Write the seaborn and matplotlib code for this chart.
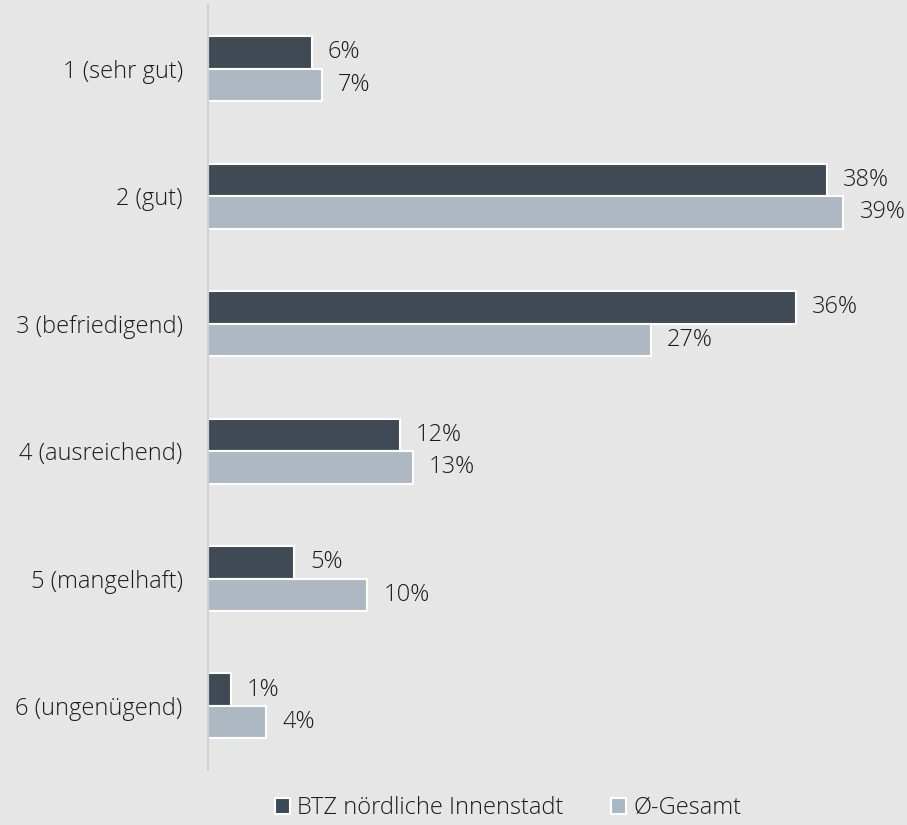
import pandas as pd
import seaborn as sns
import matplotlib.pyplot as plt

# Noten und Anteile (in %)
noten = ['1 (sehr gut)', '2 (gut)', '3 (befriedigend)', '4 (ausreichend)',
         '5 (mangelhaft)', '6 (ungenügend)']
btz = [6.4, 38.0, 36.1, 11.8, 5.3, 1.4]
gesamt = [7.0, 39.0, 27.2, 12.6, 9.8, 3.6]
serien = ['BTZ nördliche Innenstadt', 'Ø-Gesamt']
farben = ['#3b4a58', '#a9b8c5']

df = pd.DataFrame({
    'note': noten * 2,
    'wert': btz + gesamt,
    'serie': [serien[0]] * len(noten) + [serien[1]] * len(noten),
})

sns.set_style('white')
plt.rcParams['font.family'] = ['Open Sans', 'DejaVu Sans']
plt.rcParams['font.weight'] = 'light'
bg = '#e6e6e6'
txt = '#1c1c1c'
fs = 17

fig = plt.figure(figsize=(9.07, 8.25), dpi=100, facecolor=bg)
ax = fig.add_axes([0.229, 0.067, 0.771, 0.927])
ax.set_facecolor(bg)

sns.barplot(data=df, x='wert', y='note', hue='serie', orient='h',
            palette=farben, width=0.51, edgecolor='white', linewidth=1.5,
            ax=ax, legend=False)

for cont in ax.containers:
    ax.bar_label(cont, labels=[f'{round(v)}%' for v in cont.datavalues],
                 padding=11.5, fontsize=fs, color=txt)

ax.set_xlim(0, 42.9)
ax.set_ylim(5.5, -0.5)
ax.set_xlabel('')
ax.set_ylabel('')
ax.set_xticks([])
ax.tick_params(axis='y', length=0, pad=18, labelsize=fs, labelcolor=txt)
for s in ['top', 'right', 'bottom']:
    ax.spines[s].set_visible(False)
ax.spines['left'].set_color('#d0d0d0')
ax.spines['left'].set_linewidth(1.5)

handles = [plt.Rectangle((0, 0), 1, 1, facecolor=c, edgecolor='white', linewidth=1.5)
           for c in farben]
fig.legend(handles, serien, loc='center', bbox_to_anchor=(508 / 907, 1 - 808 / 825),
           ncol=2, frameon=False, fontsize=fs, labelcolor=txt,
           handlelength=0.65, handleheight=0.65, handletextpad=0.3, columnspacing=2.0)

plt.savefig('out.png', dpi=100, facecolor=bg)
